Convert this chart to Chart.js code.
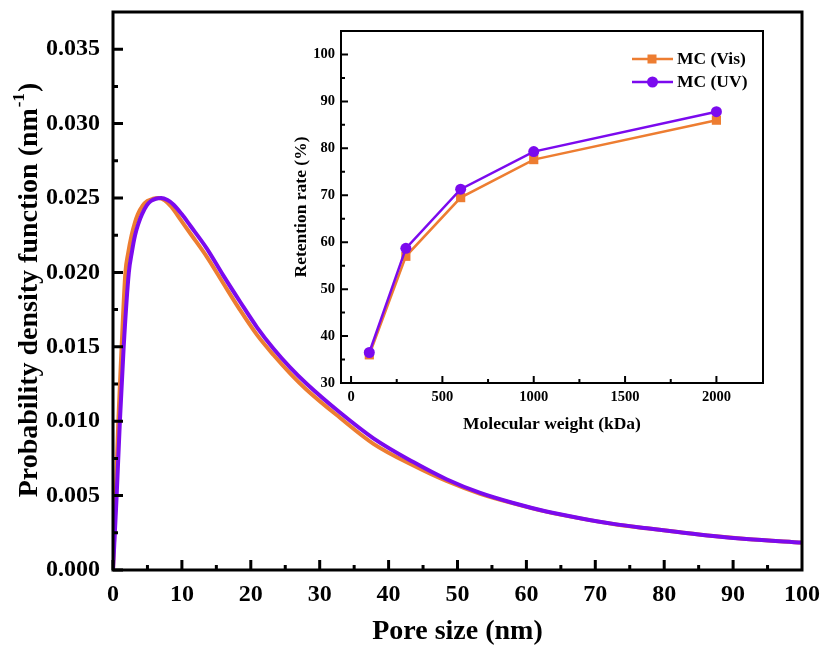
<!DOCTYPE html>
<html lang="en">
<head>
<meta charset="UTF-8">
<title>Pore size distribution</title>
<script src="https://cdn.jsdelivr.net/npm/chart.js"></script>
<style>
  body { margin: 0; background: #fff; }
  #wrap { position: relative; width: 821px; height: 652px; }
  #mainChart { position: absolute; left: 0; top: 0; width: 821px; height: 652px; }
  #insetChart { position: absolute; left: 270px; top: 20px; width: 510px; height: 425px; }
</style>
</head>
<body>
<div id="wrap">
  <canvas id="mainChart" width="821" height="652"></canvas>
  <canvas id="insetChart" width="510" height="425"></canvas>
</div>
<script>
// main plot: pore size distribution
const poreVis = [0, 0.4, 0.77, 1.25, 1.8, 2.2, 2.7, 3.15, 3.6, 4.3, 5.0, 5.8, 6.6, 7.5, 8.5, 9.8, 11.2, 13.6, 16.0, 18.4, 20.9, 23.3, 25.7, 28.1, 32.9, 37.8, 43.6, 48.4, 53.3, 58.1, 62.9, 67.8, 72.6, 77.5, 82.3, 87.1, 91.9, 100];
const pdfVis = [0, 0.005, 0.010, 0.015, 0.020, 0.0213, 0.0225, 0.0233, 0.0239, 0.02448, 0.0248, 0.02495, 0.0250, 0.02485, 0.0244, 0.02355, 0.02263, 0.02106, 0.01927, 0.0175, 0.0158, 0.01445, 0.01322, 0.01212, 0.01025, 0.00848, 0.00702, 0.00598, 0.00512, 0.00448, 0.00392, 0.00347, 0.00309, 0.0028, 0.00253, 0.00228, 0.00208, 0.00183];
const poreUV = [0, 0.53, 1.0, 1.55, 2.3, 2.75, 3.2, 3.7, 4.2, 4.9, 5.5, 6.2, 7.0, 7.9, 8.8, 10.0, 11.2, 13.6, 16.0, 18.4, 20.9, 23.3, 25.7, 28.1, 32.9, 37.8, 43.6, 48.4, 53.3, 58.1, 62.9, 67.8, 72.6, 77.5, 82.3, 87.1, 91.9, 100];
const pdfUV = [0, 0.005, 0.010, 0.015, 0.020, 0.0214, 0.0225, 0.0233, 0.0239, 0.0245, 0.0248, 0.02495, 0.0250, 0.02486, 0.02455, 0.0239, 0.02315, 0.02162, 0.0198, 0.01806, 0.01631, 0.01487, 0.01362, 0.01252, 0.0106, 0.00885, 0.00725, 0.0061, 0.00518, 0.0045, 0.00393, 0.00348, 0.0031, 0.0028, 0.00253, 0.00228, 0.00208, 0.00184];
const mainXTicks = [0, 10, 20, 30, 40, 50, 60, 70, 80, 90, 100];
const mainYTicks = [0, 0.005, 0.010, 0.015, 0.020, 0.025, 0.030, 0.035];

// inset: retention rate
const molWeight = [100, 300, 600, 1000, 2000];
const retVis = [36.0, 57.0, 69.5, 77.6, 86.0];
const retUV = [36.5, 58.7, 71.3, 79.3, 87.8];
const insetXTicks = [0, 500, 1000, 1500, 2000];
const insetYTicks = [30, 40, 50, 60, 70, 80, 90, 100];

const seriesNames = ['MC (Vis)', 'MC (UV)'];
const xTitleMain = 'Pore size (nm)';
const yTitleMain = 'Probability density function (nm';
const xTitleInset = 'Molecular weight (kDa)';
const yTitleInset = 'Retention rate (%)';

const ORANGE = '#ED7D31';
const PURPLE = '#7B0AEE';
const FONT = '"Liberation Serif", "Times New Roman", serif';

Chart.defaults.color = '#000';
Chart.defaults.font.family = FONT;
Chart.defaults.font.weight = 'bold';

const toPoints = (xs, ys) => xs.map((x, i) => ({ x: x, y: ys[i] }));
const fixTicks = list => s => { s.ticks = list.map(v => ({ value: v })); };

// frame + inward ticks (major and minor), Origin style
const frameTicks = {
  id: 'frameTicks',
  afterDatasetsDraw(chart, args, o) {
    const { ctx, chartArea: a, scales: { x, y } } = chart;
    ctx.save();
    ctx.strokeStyle = '#000';
    ctx.lineWidth = o.tickWidth;
    ctx.beginPath();
    for (let v = o.xStart; v < x.max - o.xMinor * 0.1; v += o.xMinor) {
      const px = x.getPixelForValue(v);
      const r = v / o.xMajor;
      const len = Math.abs(r - Math.round(r)) < 1e-6 ? o.major : o.minor;
      ctx.moveTo(px, a.bottom);
      ctx.lineTo(px, a.bottom - len);
    }
    for (let v = o.yStart; v < y.max - o.yMinor * 0.1; v += o.yMinor) {
      const py = y.getPixelForValue(v);
      const r = v / o.yMajor;
      const len = Math.abs(r - Math.round(r)) < 1e-6 ? o.major : o.minor;
      ctx.moveTo(a.left, py);
      ctx.lineTo(a.left + len, py);
    }
    ctx.stroke();
    ctx.lineWidth = o.frameWidth;
    ctx.strokeRect(a.left, a.top, a.right - a.left, a.bottom - a.top);
    ctx.restore();
  }
};

// y title with superscript
const yTitle = {
  id: 'yTitle',
  afterDraw(chart) {
    const { ctx, chartArea: a } = chart;
    const big = 'bold 28px ' + FONT, small = 'bold 17px ' + FONT;
    ctx.save();
    ctx.fillStyle = '#000';
    ctx.translate(30, (a.top + a.bottom) / 2);
    ctx.rotate(-Math.PI / 2);
    ctx.textBaseline = 'middle';
    ctx.textAlign = 'left';
    ctx.font = big;
    const w1 = ctx.measureText(yTitleMain).width;
    const w3 = ctx.measureText(')').width;
    ctx.font = small;
    const w2 = ctx.measureText('-1').width;
    const x0 = -(w1 + w2 + w3) / 2;
    ctx.font = big;
    ctx.fillText(yTitleMain, x0, 0);
    ctx.font = small;
    ctx.fillText('-1', x0 + w1 + 1, -10);
    ctx.font = big;
    ctx.fillText(')', x0 + w1 + w2 + 2, 0);
    ctx.restore();
  }
};

// inset legend: line with marker in the middle
const insetLegend = {
  id: 'insetLegend',
  afterDraw(chart) {
    const { ctx } = chart;
    const rows = [
      { label: seriesNames[0], color: ORANGE, shape: 'rect', y: 39 },
      { label: seriesNames[1], color: PURPLE, shape: 'circle', y: 62 }
    ];
    ctx.save();
    rows.forEach(r => {
      ctx.strokeStyle = r.color;
      ctx.fillStyle = r.color;
      ctx.lineWidth = 2.5;
      ctx.beginPath();
      ctx.moveTo(362, r.y);
      ctx.lineTo(403, r.y);
      ctx.stroke();
      if (r.shape === 'rect') {
        ctx.fillRect(377.5, r.y - 4.5, 9, 9);
      } else {
        ctx.beginPath();
        ctx.arc(382.5, r.y, 5.5, 0, Math.PI * 2);
        ctx.fill();
      }
      ctx.fillStyle = '#000';
      ctx.font = 'bold 17.5px ' + FONT;
      ctx.textBaseline = 'middle';
      ctx.textAlign = 'left';
      ctx.fillText(r.label, 407, r.y);
    });
    ctx.restore();
  }
};

new Chart(document.getElementById('mainChart'), {
  type: 'line',
  data: {
    datasets: [
      {
        label: seriesNames[0],
        data: toPoints(poreVis, pdfVis),
        borderColor: ORANGE,
        borderWidth: 4,
        pointRadius: 0,
        cubicInterpolationMode: 'monotone',
        order: 1
      },
      {
        label: seriesNames[1],
        data: toPoints(poreUV, pdfUV),
        borderColor: PURPLE,
        borderWidth: 4,
        pointRadius: 0,
        cubicInterpolationMode: 'monotone',
        order: 0
      }
    ]
  },
  options: {
    responsive: false,
    animation: false,
    layout: { padding: { top: 12, right: 19, left: 0, bottom: 0 } },
    plugins: {
      legend: { display: false },
      tooltip: { enabled: false },
      frameTicks: { xStart: 0, xMinor: 5, xMajor: 10, yStart: 0, yMinor: 0.0025, yMajor: 0.005, major: 10, minor: 5, tickWidth: 3, frameWidth: 3 }
    },
    scales: {
      x: {
        type: 'linear',
        min: 0,
        max: 100,
        grid: { display: false, drawTicks: false },
        border: { display: false },
        ticks: { padding: 10, font: { size: 24 }, maxRotation: 0, autoSkip: false, callback: v => String(v) },
        afterBuildTicks: fixTicks(mainXTicks),
        title: { display: true, text: xTitleMain, font: { size: 28 }, padding: { top: 0, bottom: 3 } },
        afterFit(s) { s.height = 82; s.paddingLeft = 0; s.paddingRight = 0; }
      },
      y: {
        type: 'linear',
        min: 0,
        max: 0.0375,
        grid: { display: false, drawTicks: false },
        border: { display: false },
        ticks: { padding: 13, font: { size: 24 }, autoSkip: false, callback: v => v.toFixed(3) },
        afterBuildTicks: fixTicks(mainYTicks),
        afterFit(s) { s.width = 113; s.paddingTop = 0; s.paddingBottom = 0; }
      }
    }
  },
  plugins: [frameTicks, yTitle]
});

new Chart(document.getElementById('insetChart'), {
  type: 'line',
  data: {
    datasets: [
      {
        label: seriesNames[0],
        data: toPoints(molWeight, retVis),
        borderColor: ORANGE,
        backgroundColor: ORANGE,
        borderWidth: 2.5,
        pointStyle: 'rect',
        pointRadius: 6.5,
        pointBorderWidth: 0,
        tension: 0,
        order: 1
      },
      {
        label: seriesNames[1],
        data: toPoints(molWeight, retUV),
        borderColor: PURPLE,
        backgroundColor: PURPLE,
        borderWidth: 2.5,
        pointStyle: 'circle',
        pointRadius: 5.5,
        pointBorderWidth: 0,
        tension: 0,
        order: 0
      }
    ]
  },
  options: {
    responsive: false,
    animation: false,
    layout: { padding: { top: 11, right: 17, left: 0, bottom: 0 } },
    plugins: {
      legend: { display: false },
      tooltip: { enabled: false },
      frameTicks: { xStart: 0, xMinor: 250, xMajor: 500, yStart: 30, yMinor: 5, yMajor: 10, major: 7, minor: 4, tickWidth: 2, frameWidth: 2 }
    },
    scales: {
      x: {
        type: 'linear',
        min: -55,
        max: 2255,
        grid: { display: false, drawTicks: false },
        border: { display: false },
        ticks: { padding: 6, font: { size: 14.5 }, maxRotation: 0, autoSkip: false, callback: v => String(v) },
        afterBuildTicks: fixTicks(insetXTicks),
        title: { display: true, text: xTitleInset, font: { size: 17.5 }, padding: { top: 0, bottom: 10 } },
        afterFit(s) { s.height = 62; s.paddingLeft = 0; s.paddingRight = 0; }
      },
      y: {
        type: 'linear',
        min: 30,
        max: 105,
        grid: { display: false, drawTicks: false },
        border: { display: false },
        ticks: { padding: 6, font: { size: 14.5 }, autoSkip: false, callback: v => String(v) },
        afterBuildTicks: fixTicks(insetYTicks),
        title: { display: true, text: yTitleInset, font: { size: 17.5 }, padding: { top: 21, bottom: 0 } },
        afterFit(s) { s.width = 71; s.paddingTop = 0; s.paddingBottom = 0; }
      }
    }
  },
  plugins: [frameTicks, insetLegend]
});
</script>
</body>
</html>
